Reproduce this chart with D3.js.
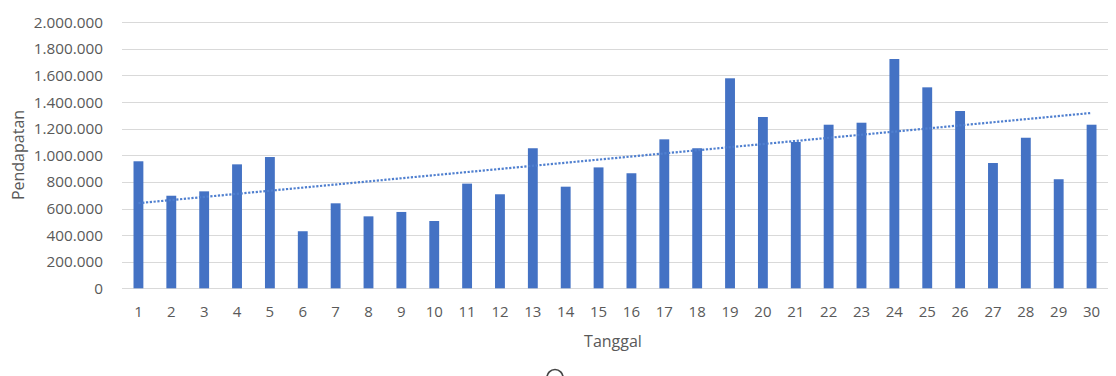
<!DOCTYPE html>
<html>
<head>
<meta charset="utf-8">
<script src="https://cdn.jsdelivr.net/npm/d3@7/dist/d3.min.js"></script>
<style>
  html, body { margin: 0; padding: 0; background: #fff; }
  svg { display: block; }
  text { font-family: "Open Sans", "Noto Sans", sans-serif; fill: #595959; }
</style>
</head>
<body>
<svg id="chart" width="1116" height="376"></svg>
<script>
// Daily income (Pendapatan) per date (Tanggal)
const days = d3.range(1, 31);
const income = [
  955000, 696000, 729000, 932000, 987000, 429000, 639000, 541000, 574000, 506000,
  787000, 707000, 1053000, 764000, 909000, 865000, 1120000, 1053000, 1579000, 1288000,
  1100000, 1230000, 1245000, 1724000, 1511000, 1333000, 942000, 1132000, 820000, 1230000
];
const yTicks = [0, 200000, 400000, 600000, 800000, 1000000, 1200000, 1400000, 1600000, 1800000, 2000000];

const svg = d3.select("#chart");
const plotLeft = 122, plotRight = 1108;
const plotBottom = 288.3, plotTop = 22.3;

const x = d3.scaleBand()
  .domain(days)
  .range([plotLeft, plotRight])
  .paddingInner(0.7)
  .paddingOuter(0.35);

const y = d3.scaleLinear()
  .domain([0, 2000000])
  .range([plotBottom, plotTop]);

const fmt = v => d3.format(",")(v).replace(/,/g, ".");

// horizontal gridlines
svg.append("g")
  .selectAll("line")
  .data(yTicks)
  .join("line")
  .attr("x1", plotLeft)
  .attr("x2", plotRight)
  .attr("y1", d => Math.round(y(d)) + 0.5)
  .attr("y2", d => Math.round(y(d)) + 0.5)
  .attr("stroke", "#d9d9d9")
  .attr("stroke-width", 1);

// y axis labels
const yAxis = d3.axisLeft(y).tickValues(yTicks).tickFormat(fmt).tickSize(0).tickPadding(0);
const gy = svg.append("g").attr("transform", "translate(103,0)").call(yAxis);
gy.select(".domain").remove();
gy.selectAll("text").attr("font-size", 15.3).attr("fill", "#595959")
  .style("font-family", "'Open Sans', sans-serif");

// bars
svg.append("g")
  .selectAll("rect")
  .data(days.map((d, i) => ({ d, v: income[i] })))
  .join("rect")
  .attr("x", r => x(r.d))
  .attr("width", x.bandwidth())
  .attr("y", r => y(r.v))
  .attr("height", r => y(0) - y(r.v))
  .attr("fill", "#4472c4");

// x axis labels
const xAxis = d3.axisBottom(x).tickSize(0).tickPadding(0);
const gx = svg.append("g").attr("transform", `translate(0,${plotBottom + 17.6})`).call(xAxis);
gx.select(".domain").remove();
gx.selectAll("text").attr("font-size", 15).attr("fill", "#595959")
  .style("font-family", "'Open Sans', sans-serif");

// linear trendline (least squares over the daily values)
const n = days.length;
const mx = d3.mean(days), my = d3.mean(income);
const slope = d3.sum(days, (d, i) => (d - mx) * (income[i] - my)) / d3.sum(days, d => (d - mx) ** 2);
const intercept = my - slope * mx;
const cx = d => x(d) + x.bandwidth() / 2;
svg.append("line")
  .attr("x1", cx(days[0]))
  .attr("y1", y(intercept + slope * days[0]))
  .attr("x2", cx(days[n - 1]))
  .attr("y2", y(intercept + slope * days[n - 1]))
  .attr("stroke", "#4f7fcf")
  .attr("stroke-width", 2.2)
  .attr("stroke-dasharray", "2.2,1.6");

// axis titles
svg.append("text")
  .attr("x", 613)
  .attr("y", 347)
  .attr("text-anchor", "middle")
  .attr("font-size", 16)
  .text("Tanggal");

svg.append("text")
  .attr("transform", "translate(24,155) rotate(-90)")
  .attr("text-anchor", "middle")
  .attr("font-size", 16)
  .text("Pendapatan");

// resize handle peeking in at the bottom edge
svg.append("circle")
  .attr("cx", 555)
  .attr("cy", 377.5)
  .attr("r", 8)
  .attr("fill", "none")
  .attr("stroke", "#444")
  .attr("stroke-width", 1.7);
</script>
</body>
</html>
